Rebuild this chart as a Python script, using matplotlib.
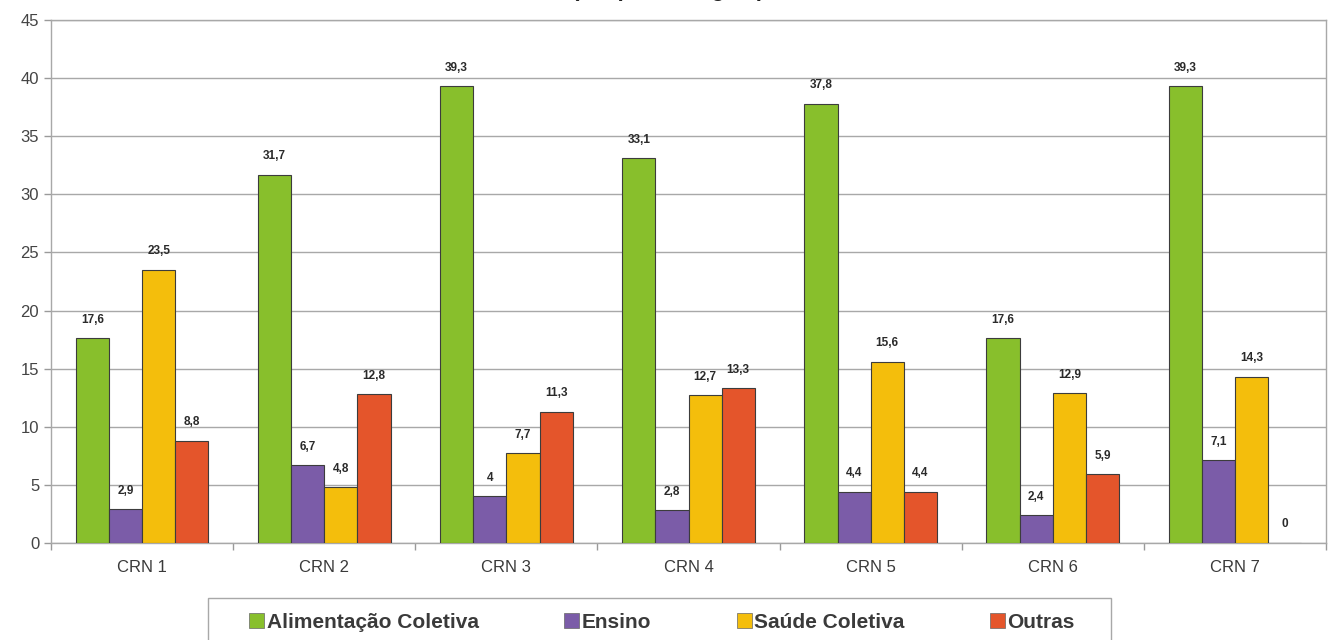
import matplotlib.pyplot as plt
import numpy as np
from matplotlib.patches import Patch, Rectangle

plt.rcParams["font.family"] = ["Liberation Sans", "DejaVu Sans"]

regions = ["CRN 1", "CRN 2", "CRN 3", "CRN 4", "CRN 5", "CRN 6", "CRN 7"]
series_names = ["Alimentação Coletiva", "Ensino", "Saúde Coletiva", "Outras"]
alimentacao = [17.6, 31.7, 39.3, 33.1, 37.8, 17.6, 39.3]
ensino = [2.9, 6.7, 4, 2.8, 4.4, 2.4, 7.1]
saude = [23.5, 4.8, 7.7, 12.7, 15.6, 12.9, 14.3]
outras = [8.8, 12.8, 11.3, 13.3, 4.4, 5.9, 0]
colors = ["#88bf2c", "#7b5ca8", "#f4be0c", "#e4552b"]

W, H = 1332, 640
fig = plt.figure(figsize=(W / 100, H / 100), dpi=100)
ax = fig.add_axes([0.0383, 0.1516, 0.9572, 0.8172])

x = np.arange(len(regions))
width = 0.182
for i, (vals, col) in enumerate(zip([alimentacao, ensino, saude, outras], colors)):
    pos = x + (i - 1.5) * width
    ax.bar(pos, vals, width, color=col, edgecolor="#3c3c3c", linewidth=0.8, zorder=3)
    for px, v in zip(pos, vals):
        label = "{:g}".format(v).replace(".", ",")
        ax.annotate(label, (px, v), xytext=(0, 9), textcoords="offset points",
                    ha="center", va="bottom", fontsize=8.5, fontweight="bold",
                    color="#2a2a2a")

ax.set_xlim(-0.5, len(regions) - 0.5)
ax.set_ylim(0, 45)
ax.set_yticks(range(0, 46, 5))
ax.tick_params(axis="y", labelsize=12, colors="#9a9a9a", labelcolor="#444444",
               length=5, width=1)
ax.set_xticks(x)
ax.set_xticklabels(regions)
ax.set_xticks(np.arange(len(regions) + 1) - 0.5, minor=True)
ax.tick_params(axis="x", which="major", length=0, labelsize=12,
               labelcolor="#3a3a3a", pad=12)
ax.tick_params(axis="x", which="minor", length=5, color="#9a9a9a", width=1)
ax.grid(axis="y", color="#a8a8a8", linewidth=1, zorder=0)
for side in ["left", "bottom", "top", "right"]:
    ax.spines[side].set_color("#a8a8a8")
    ax.spines[side].set_linewidth(1)

# title sits mostly above the canvas, only its lower edge shows
fig.text(0.5015, 1 - 1 / H, "(em porcentagem)", ha="center", va="bottom",
         fontsize=16, fontweight="bold", color="#222222")

# legend box runs off the bottom edge
fig.patches.append(Rectangle((208 / W, -0.05), (1111 - 208) / W, 0.05 + 42 / H,
                             transform=fig.transFigure, facecolor="white",
                             edgecolor="#a8a8a8", linewidth=1))
handles = [Patch(facecolor=c, edgecolor="#666666", linewidth=0.5) for c in colors]
leg = fig.legend(handles, series_names, loc="center", ncol=4,
                 bbox_to_anchor=(662 / W, 1 - 622 / H), frameon=False,
                 handlelength=0.72, handleheight=0.72, handletextpad=0.12,
                 columnspacing=4.1, borderpad=0,
                 prop={"weight": "bold", "size": 15})
for t in leg.get_texts():
    t.set_color("#3a3a3a")

fig.savefig("out.png", dpi=100)
